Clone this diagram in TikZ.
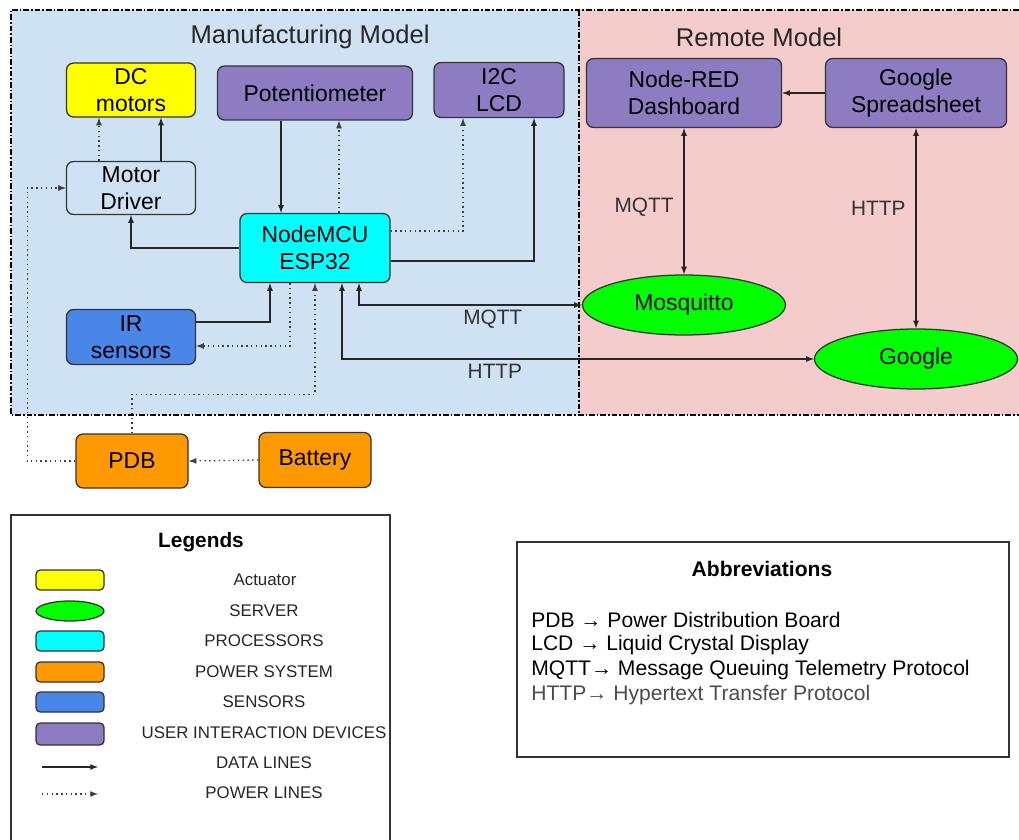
\documentclass[tikz,border=0pt]{standalone}
\usepackage{fontspec}
\setmainfont{Liberation Sans}
\usetikzlibrary{arrows,shapes,positioning,calc}

\newlength\pxl
\setlength\pxl{0.025cm}
\newcommand{\nodefont}{\fontsize{16.3}{19.5}\selectfont}
\newcommand{\titlefont}{\fontsize{18.2}{21}\selectfont}
\newcommand{\labelfont}{\fontsize{14.8}{17}\selectfont}
\newcommand{\legfont}{\fontsize{12}{14}\selectfont}

\definecolor{mfgbg}{HTML}{CFE2F3}
\definecolor{rembg}{HTML}{F4CCCC}
\definecolor{actyellow}{HTML}{FFFF00}
\definecolor{srvgreen}{HTML}{00FF00}
\definecolor{proccyan}{HTML}{00FFFF}
\definecolor{pwrorange}{HTML}{FF9900}
\definecolor{sensblue}{HTML}{4A86E8}
\definecolor{uipurple}{HTML}{8E7CC3}
\definecolor{edgegray}{HTML}{333333}

\tikzset{
  block/.style={draw=edgegray, line width=0.9pt, rounded corners=5pt, align=center,
    font=\nodefont, inner sep=0pt},
  server/.style={ellipse, draw=edgegray, line width=0.9pt, fill=srvgreen,
    font=\nodefont, inner sep=0pt, minimum width=203\pxl, minimum height=60\pxl},
  swatch/.style={draw=edgegray, line width=0.9pt, rounded corners=3pt, inner sep=0pt,
    minimum width=68\pxl, minimum height=20\pxl},
  data/.style={-latex, line width=0.9pt, draw=black!85},
  both/.style={data, latex-latex},
  power/.style={-latex, line width=0.9pt, draw=black!75, dash pattern=on 1pt off 2.4pt},
  dashdot/.style={line width=1pt, dash pattern=on 4pt off 1.5pt on 1pt off 1.5pt},
  lbl/.style={font=\labelfont, text=black!80, inner sep=3pt},
  legtxt/.style={font=\legfont, text=black!85}
}

\begin{document}
\begin{tikzpicture}[x=0.025cm,y=-0.025cm]
    \useasboundingbox (0,0) rectangle (1019,840);

    % regions
    \fill[mfgbg] (11,10) rectangle (579,415);
    \fill[rembg] (579,10) rectangle (1019,415);
    \draw[dashdot] (1019,10) -- (11,10) -- (11,415) -- (1019,415);
    \draw[dashdot] (579,10) -- (579,415);
    \node[font=\titlefont, text=black!85] (mfgtitle) at (310,37) {Manufacturing Model};
    \node[font=\titlefont, text=black!85] (remtitle) at (759,37) {Remote Model};

    % manufacturing model
    \node[block, fill=actyellow, minimum width=129\pxl, minimum height=54\pxl] (dcm) at (131,90) {DC\\motors};
    \node[block, fill=uipurple, minimum width=195\pxl, minimum height=54\pxl] (pot) at (315,93) {Potentiometer};
    \node[block, fill=uipurple, minimum width=130\pxl, minimum height=55\pxl] (lcd) at (499,90) {I2C\\LCD};
    \node[block, minimum width=129\pxl, minimum height=53\pxl] (mdrv) at (131,188) {Motor\\Driver};
    \node[block, fill=proccyan, minimum width=150\pxl, minimum height=69\pxl] (mcu) at (315,248) {NodeMCU\\ESP32};
    \node[block, fill=sensblue, minimum width=129\pxl, minimum height=55\pxl] (ir) at (131,337) {IR\\sensors};
    \node[block, fill=pwrorange, minimum width=112\pxl, minimum height=54\pxl] (pdb) at (132,461) {PDB};
    \node[block, fill=pwrorange, minimum width=112\pxl, minimum height=55\pxl] (bat) at (315,460) {Battery};

    % remote model
    \node[block, fill=uipurple, minimum width=195\pxl, minimum height=69\pxl] (nred) at (684,93) {Node-RED\\Dashboard};
    \node[block, fill=uipurple, minimum width=181\pxl, minimum height=69\pxl] (gss) at (916,93) {Google\\Spreadsheet};
    \node[server] (mosq) at (684,305) {Mosquitto};
    \node[server] (goog) at (916,359) {Google};

    % data lines
    \draw[data] ([xshift=30\pxl]mdrv.north) -- ([xshift=30\pxl]dcm.south);
    \draw[data] (mcu.west) -| (mdrv.south);
    \draw[data] ([xshift=-34\pxl]pot.south) -- ([xshift=-34\pxl]mcu.north);
    \draw[data] ([yshift=-13\pxl]mcu.east) -| ([xshift=35\pxl]lcd.south);
    \draw[data] ([yshift=15\pxl]ir.east) -| ([xshift=-45\pxl]mcu.south);
    \draw[both] ([xshift=44\pxl]mcu.south) |- (mosq.west)
        node[lbl, pos=0.8, below] (mqttlbl) {MQTT};
    \draw[both] ([xshift=27\pxl]mcu.south) |- (goog.west)
        node[lbl, pos=0.662, below] (httplbl) {HTTP};
    \draw[both] (nred.south) -- (mosq.north)
        node[lbl, pos=0.54, left=4pt] (mqttlbl2) {MQTT};
    \draw[both] (gss.south) -- (goog.north)
        node[lbl, pos=0.4, left=4pt] (httplbl2) {HTTP};
    \draw[data] (gss.west) -- (nred.east);

    % power lines
    \draw[power] ([xshift=-32\pxl]mdrv.north) -- ([xshift=-32\pxl]dcm.south);
    \draw[power] ([xshift=24\pxl]mcu.north) -- ([xshift=24\pxl]pot.south);
    \draw[power] ([yshift=17\pxl]mcu.east) -| ([xshift=-36\pxl]lcd.south);
    \draw[power] ([xshift=-25\pxl]mcu.south) |- ([yshift=-9\pxl]ir.east);
    \draw[power] (pdb.north) -- ++(0,-39) -| (mcu.south);
    \draw[power] (pdb.west) -- ++(-48,0) |- (mdrv.west);
    \draw[power] (bat.west) -- (pdb.east);

    % legend
    \draw[line width=0.9pt, draw=edgegray] (11,840) -- (11,515) -- (390,515) -- (390,840);
    \node[font=\fontsize{14.8}{17}\selectfont\bfseries] (legtitle) at (201,542) {Legends};
    \node[swatch, fill=actyellow] (swact) at (70,580) {};
    \node[swatch, ellipse, fill=srvgreen, rounded corners=0pt] (swsrv) at (70,611) {};
    \node[swatch, fill=proccyan] (swproc) at (70,641) {};
    \node[swatch, fill=pwrorange] (swpwr) at (70,672) {};
    \node[swatch, fill=sensblue] (swsens) at (70,702) {};
    \node[swatch, fill=uipurple, minimum height=22\pxl] (swui) at (70,734) {};
    \coordinate (dataA) at (42,767);
    \coordinate (dataB) at (98,767);
    \coordinate (powA) at (42,794);
    \coordinate (powB) at (98,794);
    \draw[data] (dataA) -- (dataB);
    \draw[power] (powA) -- (powB);
    \node[legtxt] (txact) at (265,580) {Actuator};
    \node[legtxt] (txsrv) at (264,611) {SERVER};
    \node[legtxt] (txproc) at (264,641) {PROCESSORS};
    \node[legtxt] (txpwr) at (264,672) {POWER SYSTEM};
    \node[legtxt] (txsens) at (264,702) {SENSORS};
    \node[legtxt] (txui) at (264,733) {USER INTERACTION DEVICES};
    \node[legtxt] (txdata) at (264,763) {DATA LINES};
    \node[legtxt] (txpow) at (264,793) {POWER LINES};

    % abbreviations
    \draw[line width=0.9pt, draw=edgegray] (517,542) rectangle (1009,757);
    \node[font=\fontsize{15}{18}\selectfont\bfseries] (abbrtitle) at (762,569) {Abbreviations};
    \node[anchor=west, inner sep=0pt, font=\fontsize{15}{18}\selectfont] (abpdb) at (531,620) {PDB → Power Distribution Board};
    \node[anchor=west, inner sep=0pt, font=\fontsize{15}{18}\selectfont] (ablcd) at (531,645) {LCD → Liquid Crystal Display};
    \node[anchor=west, inner sep=0pt, font=\fontsize{15}{18}\selectfont] (abmqtt) at (531,670) {MQTT→ Message Queuing Telemetry Protocol};
    \node[anchor=west, inner sep=0pt, font=\fontsize{15}{18}\selectfont, text=black!70] (abhttp) at (531,695) {HTTP→ Hypertext Transfer Protocol};
\end{tikzpicture}
\end{document}
